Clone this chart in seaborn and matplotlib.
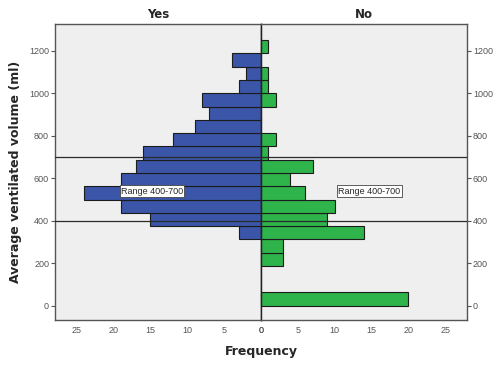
import numpy as np
import pandas as pd
import matplotlib
matplotlib.use("Agg")
import matplotlib.pyplot as plt
import seaborn as sns

# Histogram bins of average ventilated volume (ml), width 62.5 ml, lower edges
bin_lower = [0, 62.5, 125, 187.5, 250, 312.5, 375, 437.5, 500, 562.5, 625,
             687.5, 750, 812.5, 875, 937.5, 1000, 1062.5, 1125, 1187.5, 1250]
bin_width = 62.5

# Frequencies per bin
freq_yes = [0, 0, 0, 0, 0, 3, 15, 19, 24, 19, 17, 16, 12, 9, 7, 8, 3, 2, 4, 0, 0]
freq_no = [20, 0, 0, 3, 3, 14, 9, 10, 6, 4, 7, 1, 2, 0, 0, 2, 1, 1, 0, 1, 0]

y_ticks = [0, 200, 400, 600, 800, 1000, 1200]
x_ticks = [0, 5, 10, 15, 20, 25]
range_lines = [400, 700]
range_label = "Range 400-700"

blue = "#3b56a8"
green = "#2fb34b"
panel_bg = "#efefef"
frame = "#555555"

sns.set_style("white")
plt.rcParams["font.family"] = ["Liberation Sans", "DejaVu Sans"]

df = pd.DataFrame({
    "volume": np.array(bin_lower) + bin_width / 2,
    "Yes": freq_yes,
    "No": freq_no,
})

fig = plt.figure(figsize=(4.93, 3.65), dpi=100)
ax_l = fig.add_axes([0.1122, 0.1233, 0.4172, 0.8110])
ax_r = fig.add_axes([0.5294, 0.1233, 0.4173, 0.8110])

binrange = (bin_lower[0], bin_lower[-1] + bin_width)
sns.histplot(data=df, y="volume", weights="Yes", binwidth=bin_width,
             binrange=binrange, color=blue, alpha=1, edgecolor="#1c1c1c",
             linewidth=0.8, ax=ax_l)
sns.histplot(data=df, y="volume", weights="No", binwidth=bin_width,
             binrange=binrange, color=green, alpha=1, edgecolor="#1c1c1c",
             linewidth=0.8, ax=ax_r)

ylim = (-67, 1326)
for ax in (ax_l, ax_r):
    ax.set_facecolor(panel_bg)
    ax.set_ylim(*ylim)
    ax.set_xlim(0, 27.9)
    ax.set_xticks(x_ticks)
    ax.set_yticks(y_ticks)
    ax.set_xlabel("")
    ax.set_ylabel("")
    for sp in ax.spines.values():
        sp.set_color(frame)
        sp.set_linewidth(1.0)
    ax.tick_params(axis="both", which="both", direction="out", length=3,
                   width=0.8, color=frame, labelsize=6.5, labelcolor="#555555",
                   pad=1.5)
    for v in range_lines:
        ax.axhline(v, color="#2a2a2a", linewidth=0.9, zorder=5)

ax_l.invert_xaxis()
ax_l.yaxis.tick_left()
ax_r.yaxis.tick_right()
ax_r.spines["left"].set_color("#222222")
ax_l.spines["right"].set_color("#222222")

ax_l.set_title("Yes", fontsize=8.5, fontweight="bold", family="DejaVu Sans",
               pad=4)
ax_r.set_title("No", fontsize=8.5, fontweight="bold", family="DejaVu Sans",
               pad=4)

box = dict(boxstyle="square,pad=0.15", facecolor="white",
           edgecolor="#444444", linewidth=0.6)
ax_l.text(19.0, 540, range_label, fontsize=6.5, ha="left", va="center",
          bbox=box, zorder=6)
ax_r.text(10.5, 540, range_label, fontsize=6.5, ha="left", va="center",
          bbox=box, zorder=6)

fig.text(0.5294, 0.036, "Frequency", ha="center", va="center",
         fontsize=9, fontweight="bold", family="DejaVu Sans")
fig.text(0.032, 0.53, "Average ventilated volume (ml)", ha="center",
         va="center", rotation=90, fontsize=9, fontweight="bold",
         family="DejaVu Sans")

fig.savefig("out.png", dpi=100, facecolor="white")
